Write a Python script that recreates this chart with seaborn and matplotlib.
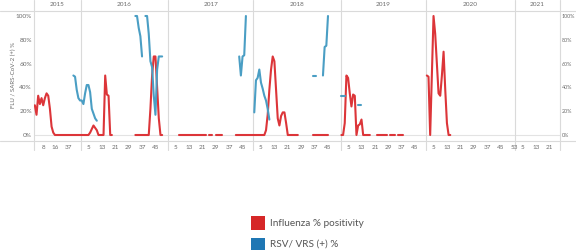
import matplotlib
matplotlib.use("Agg")
import matplotlib.pyplot as plt
from matplotlib.lines import Line2D
from matplotlib.patches import Rectangle
import matplotlib.transforms as mtransforms
import pandas as pd
import seaborn as sns

sns.set_style("white")
plt.rcParams["font.family"] = ["Lato", "DejaVu Sans"]

# ---------------- data ----------------
years = [2015, 2016, 2017, 2018, 2019, 2020, 2021]
weeks_per_panel = [28, 52, 51, 52, 51, 53, 27]

tick_pos_2015 = [6, 13, 21]
tick_lab_2015 = ["8", "16", "37"]
tick_weeks = [5, 13, 21, 29, 37, 45]
tick_weeks_2020 = [5, 13, 21, 29, 37, 45, 53]
tick_weeks_2021 = [5, 13, 21]

y_ticks = [0, 20, 40, 60, 80, 100]
y_labels = ["0%", "20%", "40%", "60%", "80%", "100%"]

N = None
# Influenza % positivity (index = week position within the year panel, starting at 1)
flu_2015 = [25, 17, 33, 26, 31, 25, 31, 35, 33, 22, 7, 2, 0, 0, 0, 0, 0, 0, 0, 0,
            0, 0, 0, 0, 0, 0, 0, 0]
flu_2016 = [0, 0, 0, 0, 0, 2, 5, 8, 6, 4, 0, 0, 0, 0, 50, 34, 33, 0, 0,
            N, N, N, N, N, N, N, N, N, N, N, N, N,
            0, 0, 0, 0, 0, 0, 0, 0, 0, 22, 50, 66, 66, 40, 14, 0, 0]
flu_2017 = [N, N, N, N, N, N,
            0, 0, 0, 0, 0, 0, 0, 0, 0, 0, 0, 0, 0, 0, 0, 0, 0,
            N, 0, 0, 0, N, 0, 0, 0, 0, 0,
            N, N, N, N, N, N, N,
            0, 0, 0, 0, 0, 0, 0, 0, 0, 0, 0]
flu_2018 = [0, 0, 0, 0, 0, 0, 0, 4, 17, 38, 55, 66, 62, 38, 14, 8, 16, 19, 19, 10, 0,
            0, 0, 0, 0, 0, 0,
            N, N, N, N, N, N, N, N,
            0, 0, 0, 0, 0, 0, 0, 0, 0, 0]
flu_2019 = [0, 0, 10, 50, 48, 35, 24, 34, 33, 0, 8, 9, 13, 0, 0, 0, 0, 0,
            N, N, N,
            0, 0, 0, 0, 0, 0, 0,
            N, 0, 0, 0, 0,
            N, 0, 0, 0, 0]
flu_2020 = [50, 49, 0, 50, 100, 85, 60, 35, 33, 50, 70, 38, 10, 0, 0]
flu_2021 = []

# RSV / VRS (+) %
rsv_2015 = [N, N, N, N, N, N, N, N, N, N, N, N, N, N, N, N, N, N, N, N, N, N, N,
            50, 49, 38, 31, 29]
rsv_2016 = [29, 26, 35, 42, 42, 36, 22, 18, 14, 12,
            N, N, N, N, N, N, N, N, N, N, N, N, N, N, N, N, N, N, N, N, N, N,
            100, 100, 90, 83, 66, N,
            100, 100, 85, 62, 57, 33, 17, 55, 66, 66, 66]
rsv_2017 = [N, N, N, N, N, N, N, N, N, N, N, N, N, N, N, N, N, N, N, N, N,
            N, N, N, N, N, N, N, N, N, N, N, N, N, N, N, N, N, N, N, N, N,
            66, 50, 66, 67, 100]
rsv_2018 = [19, 46, 48, 55, 44, 39, 33, 29, 22, 13,
            N, N, N, N, N, N, N, N, N, N, N, N, N, N, N, N, N, N, N, N, N, N, N, N, N,
            50, 50, 50, N, N, N, 50, 74, 75, 100]
rsv_2019 = [33, 33, 33, N, N, N, N, N, N, N, 25, 25, 25]
rsv_2020 = []
rsv_2021 = []

flu_series = [flu_2015, flu_2016, flu_2017, flu_2018, flu_2019, flu_2020, flu_2021]
rsv_series = [rsv_2015, rsv_2016, rsv_2017, rsv_2018, rsv_2019, rsv_2020, rsv_2021]
series_names = ["Influenza % positivity", "RSV/ VRS (+) %"]

# ---------------- build long table ----------------
offsets = []
acc = 0
for n in weeks_per_panel:
    offsets.append(acc)
    acc += n
total = acc

rows = []
for name, per_year in zip(series_names, [flu_series, rsv_series]):
    pts = []
    for off, vals in zip(offsets, per_year):
        for i, v in enumerate(vals):
            if v is not None:
                pts.append((off + i + 1, v))
    seg = 0
    prev = None
    for x, v in pts:
        if prev is not None and x - prev > 1:
            seg += 1
        rows.append({"x": x, "value": v, "series": name, "seg": f"{name}-{seg}"})
        prev = x
df = pd.DataFrame(rows)

# ---------------- figure ----------------
W, H = 576, 250
fig = plt.figure(figsize=(W / 100, H / 100), dpi=100)
ax_left, ax_right, ax_top, ax_bot = 34, 560, 10, 141
ax = fig.add_axes([ax_left / W, 1 - ax_bot / H, (ax_right - ax_left) / W, (ax_bot - ax_top) / H])

red_line = "#dc3539"
blue_line = "#4a9ec4"
sns.lineplot(data=df, x="x", y="value", hue="series", units="seg", estimator=None,
             hue_order=series_names, palette=[red_line, blue_line],
             linewidth=1.5, legend=False, ax=ax, sort=False)

ax.set_xlim(0.5, total + 0.5)
ax.set_ylim(-5.04, 105.04)
for s in ax.spines.values():
    s.set_visible(False)
ax.set_xlabel("")
ax.set_ylabel("")
ax.axhline(0, color="#e3e3e3", lw=0.8, zorder=0)

txt_color = "#6b6b6b"
fs = 4.6

# x ticks
xt, xl = [], []
for yr, off in zip(years, offsets):
    if yr == 2015:
        pos, lab = tick_pos_2015, tick_lab_2015
    elif yr == 2020:
        pos, lab = tick_weeks_2020, [str(w) for w in tick_weeks_2020]
    elif yr == 2021:
        pos, lab = tick_weeks_2021, [str(w) for w in tick_weeks_2021]
    else:
        pos, lab = tick_weeks, [str(w) for w in tick_weeks]
    xt += [off + p for p in pos]
    xl += lab
ax.set_xticks(xt)
ax.set_xticklabels(xl)
ax.tick_params(axis="x", length=0, labelsize=fs, labelcolor=txt_color, pad=2.6)

ax.set_yticks(y_ticks)
ax.set_yticklabels(y_labels)
ax.tick_params(axis="y", length=0, labelsize=fs, labelcolor=txt_color, pad=1.5)

ax2 = ax.twinx()
ax2.set_ylim(ax.get_ylim())
ax2.set_yticks(y_ticks)
ax2.set_yticklabels(y_labels)
ax2.tick_params(axis="y", length=0, labelsize=3.9, labelcolor=txt_color, pad=1.3)
for s in ax2.spines.values():
    s.set_visible(False)
ax2.grid(False)
ax.grid(False)

# panel separators and year headers
axh = ax_bot - ax_top
sep_color = "#dadada"
bounds = [0.5] + [off + n + 0.5 for off, n in zip(offsets, weeks_per_panel)]
for b in bounds:
    ax.axvline(b, ymin=-9 / axh, ymax=1 + ax_top / axh, color=sep_color, lw=0.8,
               clip_on=False, zorder=0)
trans = mtransforms.blended_transform_factory(ax.transData, ax.transAxes)
for yr, off, n in zip(years, offsets, weeks_per_panel):
    ax.text(off + n / 2 + 0.5, 1 + 5.2 / axh, str(yr), transform=trans, ha="center",
            va="center", fontsize=fs, color=txt_color)

# horizontal frame lines
for ypx in [10.5, 141]:
    fig.add_artist(Line2D([0, 1], [1 - ypx / H] * 2, transform=fig.transFigure,
                          color=sep_color, lw=0.8))

# y axis title
fig.text(13 / W, 1 - 75 / H, "FLU / SARS-CoV-2 (+) %", rotation=90, ha="center",
         va="center", fontsize=4.4, color=txt_color)

# legend
leg_cols = ["#d62728", "#1f77b4"]
for i, (name, c) in enumerate(zip(series_names, leg_cols)):
    top = 216 + i * 21.5
    fig.add_artist(Rectangle((251 / W, 1 - (top + 14) / H), 14 / W, 14 / H,
                             transform=fig.transFigure, color=c, lw=0))
    fig.text(270 / W, 1 - (top + 7) / H, name, ha="left", va="center",
             fontsize=7.2, color="#555555")

fig.savefig("out.png", dpi=100)
